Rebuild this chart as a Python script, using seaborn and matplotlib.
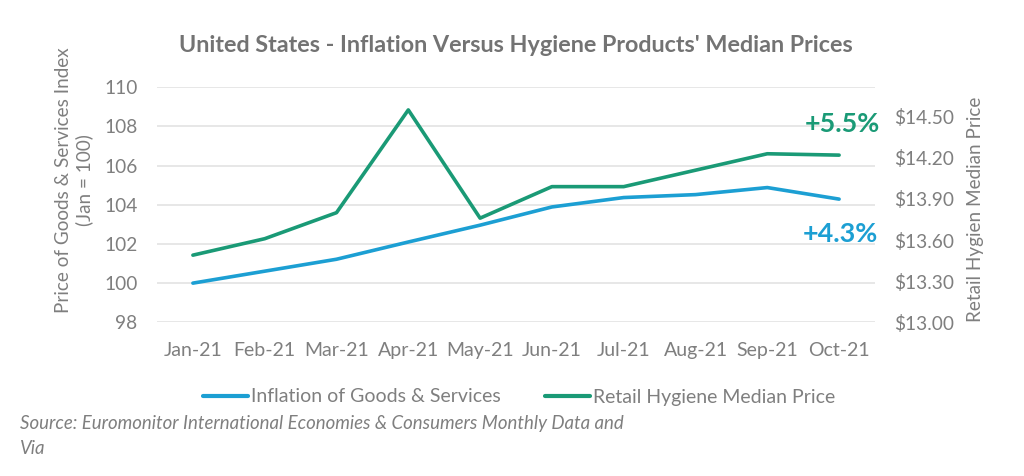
import matplotlib
matplotlib.use("Agg")
import matplotlib.pyplot as plt
import seaborn as sns
import pandas as pd
from matplotlib.lines import Line2D

months = ["Jan-21", "Feb-21", "Mar-21", "Apr-21", "May-21",
          "Jun-21", "Jul-21", "Aug-21", "Sep-21", "Oct-21"]
inflation_index = [100.0, 100.61, 101.22, 102.10, 102.96,
                   103.89, 104.37, 104.52, 104.88, 104.29]
hygiene_price = [13.49, 13.61, 13.80, 14.55, 13.76,
                 13.99, 13.99, 14.11, 14.23, 14.22]
left_ticks = [98, 100, 102, 104, 106, 108, 110]
right_ticks = [13.00, 13.30, 13.60, 13.90, 14.20, 14.50]
series_names = ["Inflation of Goods & Services", "Retail Hygiene Median Price"]
annotations = ["+4.3%", "+5.5%"]

BLUE = "#1c9fd3"
GREEN = "#1a9a76"
GRAY = "#7f7f7f"
GRID = "#e3e3e3"

sns.set_theme(style="white")
plt.rcParams["font.family"] = ["Lato", "DejaVu Sans"]

df = pd.DataFrame({"month": months, "inflation": inflation_index, "hygiene": hygiene_price})

fig = plt.figure(figsize=(10.24, 4.76), dpi=100)
ax = fig.add_axes([157/1024, 1-322.3/476, (875-157)/1024, (322.3-87.3)/476])
ax2 = ax.twinx()

sns.lineplot(data=df, x="month", y="inflation", ax=ax, color=BLUE, linewidth=2.6,
             sort=False, legend=False)
sns.lineplot(data=df, x="month", y="hygiene", ax=ax2, color=GREEN, linewidth=2.6,
             sort=False, legend=False)

ax.set_xlim(-0.5, len(months) - 0.5)
ax.set_ylim(98, 110)
ax.set_yticks(left_ticks)
ax.set_yticklabels([f"{t:d}" for t in left_ticks])
ax2.set_ylim(13.0, 14.715)
ax2.set_yticks(right_ticks)
ax2.set_yticklabels([f"${t:.2f}" for t in right_ticks])

ax.grid(axis="y", color=GRID, linewidth=1.2)
ax.set_axisbelow(True)
for a in (ax, ax2):
    for s in a.spines.values():
        s.set_visible(False)
    a.set_xlabel("")
    a.set_ylabel("")
ax.tick_params(axis="y", length=0, pad=14, labelsize=13.8, labelcolor=GRAY)
ax.tick_params(axis="x", length=0, pad=14, labelsize=14, labelcolor=GRAY)
ax2.tick_params(axis="y", length=0, pad=14, labelsize=13.8, labelcolor=GRAY)

fig.text(516/1024, 1-45/476, "United States - Inflation Versus Hygiene Products' Median Prices",
         ha="center", va="center", fontsize=16.8, fontweight="bold", color="#737373")
fig.text(74/1024, 1-180/476, "Price of Goods & Services Index\n(Jan = 100)",
         rotation=90, ha="center", va="center", multialignment="center",
         fontsize=13.6, color=GRAY, linespacing=1.25)
fig.text(976/1024, 1-209/476, "Retail Hygien Median Price",
         rotation=90, ha="center", va="center", fontsize=13.6, color=GRAY)

fig.text(880/1024, 1-124/476, annotations[1], ha="right", va="center",
         fontsize=19.4, fontweight="bold", color=GREEN)
fig.text(878/1024, 1-234/476, annotations[0], ha="right", va="center",
         fontsize=19.4, fontweight="bold", color=BLUE)

handles = [Line2D([], [], color=BLUE, linewidth=3), Line2D([], [], color=GREEN, linewidth=3)]
leg = fig.legend(handles, series_names, loc="center", bbox_to_anchor=(519/1024, 1-397/476),
                 ncol=2, frameon=False, fontsize=14, handlelength=2.3, handletextpad=0.15,
                 columnspacing=2.3)
for t in leg.get_texts():
    t.set_color(GRAY)

fig.text(20/1024, 1-424/476, "Source: Euromonitor International Economies & Consumers Monthly Data and",
         ha="left", va="center", fontsize=13.4, style="italic", color=GRAY)
fig.text(20/1024, 1-448/476, "Via", ha="left", va="center", fontsize=13.4, style="italic", color=GRAY)

fig.savefig("out.png", dpi=100, facecolor="white")
